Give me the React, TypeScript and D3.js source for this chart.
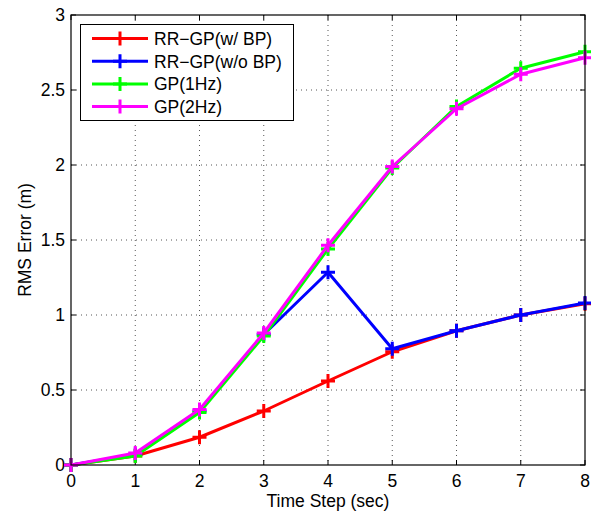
import React from "react";
import * as d3 from "d3";

const steps = [0, 1, 2, 3, 4, 5, 6, 7, 8];
const rrGpWithBp = [0, 0.06, 0.185, 0.36, 0.56, 0.755, 0.895, 1.0, 1.075];
const rrGpWithoutBp = [0, 0.07, 0.36, 0.87, 1.285, 0.775, 0.895, 1.0, 1.08];
const gp1Hz = [0, 0.06, 0.35, 0.86, 1.44, 1.98, 2.39, 2.645, 2.755];
const gp2Hz = [0, 0.08, 0.37, 0.88, 1.465, 1.99, 2.375, 2.605, 2.715];
const seriesNames = ["RR\u2212GP(w/ BP)", "RR\u2212GP(w/o BP)", "GP(1Hz)", "GP(2Hz)"];
const seriesColors = ["#ff0000", "#0000ff", "#00ff00", "#ff00ff"];
const xTicks = [0, 1, 2, 3, 4, 5, 6, 7, 8];
const yTicks = [0, 0.5, 1, 1.5, 2, 2.5, 3];
const xLabel = "Time Step (sec)";
const yLabel = "RMS Error (m)";

export default function App() {
  const W = 591, H = 523;
  const L = 71, R = 585, T = 15, B = 465;
  const x = d3.scaleLinear().domain([0, 8]).range([L, R]);
  const y = d3.scaleLinear().domain([0, 3]).range([B, T]);
  const allSeries = [rrGpWithBp, rrGpWithoutBp, gp1Hz, gp2Hz];
  const line = d3.line<number>().x((_, i) => x(steps[i])).y((d) => y(d));
  const font = "'Liberation Sans', Arial, Helvetica, sans-serif";
  const fs = 17.5;
  const ms = 7;
  const plus = (cx: number, cy: number, c: string, k: string) => (
    <path key={k} d={`M${cx - ms},${cy}H${cx + ms}M${cx},${cy - ms}V${cy + ms}`} stroke={c} strokeWidth={3} fill="none" />
  );
  return (
    <svg width={W} height={H} style={{ position: "absolute", left: 0, top: 0, background: "#fff" }}>
      <rect x={0} y={0} width={W} height={H} fill="#fff" />
      {/* grid */}
      {xTicks.slice(1, -1).map((t) => (
        <line key={"gx" + t} x1={x(t)} x2={x(t)} y1={T} y2={B} stroke="#555" strokeWidth={1} strokeDasharray="1,4" />
      ))}
      {yTicks.slice(1, -1).map((t) => (
        <line key={"gy" + t} x1={L} x2={R} y1={y(t)} y2={y(t)} stroke="#555" strokeWidth={1} strokeDasharray="1,4" />
      ))}
      {/* ticks */}
      {xTicks.map((t) => (
        <g key={"tx" + t}>
          <line x1={x(t)} x2={x(t)} y1={B} y2={B - 5} stroke="#000" />
          <line x1={x(t)} x2={x(t)} y1={T} y2={T + 5} stroke="#000" />
          <text x={x(t)} y={B + 21.5} textAnchor="middle" fontFamily={font} fontSize={fs}>{t}</text>
        </g>
      ))}
      {yTicks.map((t) => (
        <g key={"ty" + t}>
          <line x1={L} x2={L + 5} y1={y(t)} y2={y(t)} stroke="#000" />
          <line x1={R} x2={R - 5} y1={y(t)} y2={y(t)} stroke="#000" />
          <text x={L - 6} y={y(t) + 6} textAnchor="end" fontFamily={font} fontSize={fs}>{t}</text>
        </g>
      ))}
      {/* series */}
      {allSeries.map((s, si) => (
        <g key={"s" + si}>
          <path d={line(s) || ""} stroke={seriesColors[si]} strokeWidth={3} fill="none" strokeLinejoin="round" />
          {s.map((v, i) => plus(x(steps[i]), y(v), seriesColors[si], `m${si}-${i}`))}
        </g>
      ))}
      {/* frame */}
      <rect x={L} y={T} width={R - L} height={B - T} fill="none" stroke="#000" strokeWidth={1.2} />
      {/* legend */}
      <rect x={80.5} y={24.5} width={213} height={96} fill="#fff" stroke="#000" strokeWidth={1} />
      {seriesNames.map((n, i) => {
        const ly = 38.5 + i * 22.7;
        return (
          <g key={"lg" + i}>
            <line x1={92} x2={148} y1={ly} y2={ly} stroke={seriesColors[i]} strokeWidth={3} />
            {plus(120, ly, seriesColors[i], "lp" + i)}
            <text x={154} y={ly + 6.5} fontFamily={font} fontSize={fs}>{n}</text>
          </g>
        );
      })}
      {/* axis labels */}
      <text x={(L + R) / 2} y={B + 41.5} textAnchor="middle" fontFamily={font} fontSize={fs}>{xLabel}</text>
      <text transform={`translate(31,${(T + B) / 2}) rotate(-90)`} textAnchor="middle" fontFamily={font} fontSize={fs}>{yLabel}</text>
    </svg>
  );
}
